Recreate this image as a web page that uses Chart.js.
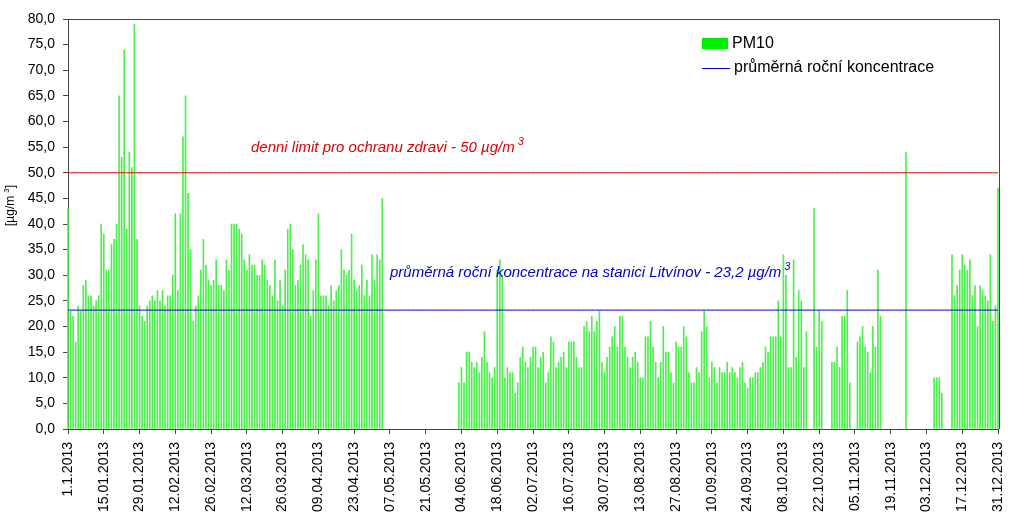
<!DOCTYPE html>
<html>
<head>
<meta charset="utf-8">
<script src="https://cdn.jsdelivr.net/npm/chart.js@4.4.0/dist/chart.umd.min.js"></script>
<style>
  html, body { margin: 0; padding: 0; background: #fff; }
</style>
</head>
<body>
<canvas id="chartCanvas" width="1024" height="531"></canvas>
<script>
// tick labels, one every 14 days
const tickLabels = [
  "1.1.2013", "15.01.2013", "29.01.2013", "12.02.2013", "26.02.2013", "12.03.2013",
  "26.03.2013", "09.04.2013", "23.04.2013", "07.05.2013", "21.05.2013", "04.06.2013",
  "18.06.2013", "02.07.2013", "16.07.2013", "30.07.2013", "13.08.2013", "27.08.2013",
  "10.09.2013", "24.09.2013", "08.10.2013", "22.10.2013", "05.11.2013", "19.11.2013",
  "03.12.2013", "17.12.2013", "31.12.2013"
];

// daily PM10 [µg/m3], 1.1. - 31.12.2013 (null = no measurement)
const pm10Jan = [43,23,22,17,24,23,28,29,26,26,24,25,26,40,38,31,31,36,37,40,65,53,74,39,54,51,79,37,24,22,21];
const pm10Feb = [24,25,26,25,27,25,27,24,26,26,30,42,27,42,57,65,46,35,21,24,26,31,37,32,29,28,29,33];
const pm10Mar = [28,28,27,33,31,40,40,40,39,38,33,31,34,32,32,30,30,33,32,29,28,26,33,25,29,24,31,39,40,35,28];
const pm10Apr = [29,32,36,34,33,22,27,33,42,26,26,26,24,28,25,27,28,35,31,30,31,38,29,27,28,32,26,29,26,34];
const pm10May = [29,34,33,45,null,null,null,null,null,null,null,null,null,null,null,null,null,null,null,null,null,null,null,null,null,null,null,null,null,null,null];
const pm10Jun = [null,null,9,12,9,15,15,13,12,13,11,14,19,13,11,10,12,31,33,30,10,12,11,11,7,9,14,16,13,12];
const pm10Jul = [14,16,16,12,14,15,9,11,18,17,12,13,14,15,12,17,17,17,14,12,12,20,21,19,22,19,21,23,13,11,14];
const pm10Aug = [16,18,20,16,22,22,16,14,12,14,15,13,10,10,18,18,21,16,13,10,13,20,15,15,11,9,17,16,16,20,18];
const pm10Sep = [11,9,9,12,11,19,23,20,10,13,12,9,12,11,11,13,11,12,11,10,12,13,9,8,10,10,11,11,12,13];
const pm10Oct = [16,15,18,18,18,25,18,34,30,12,12,33,14,27,25,12,19,null,null,43,16,23,21,null,null,null,13,13,16,12,22];
const pm10Nov = [22,27,9,null,null,17,18,20,16,15,11,20,16,31,22,null,null,null,null,null,null,null,null,null,54,null,null,null,null,null];
const pm10Dec = [null,null,null,null,null,10,10,10,7,null,null,null,34,26,28,31,34,32,31,33,26,28,20,28,27,26,25,34,21,24,47];

const limitValue = 50;    // denni limit
const avgValue = 23.2;    // prumerna rocni koncentrace

const pm10 = [].concat(pm10Jan, pm10Feb, pm10Mar, pm10Apr, pm10May, pm10Jun,
  pm10Jul, pm10Aug, pm10Sep, pm10Oct, pm10Nov, pm10Dec);

const days = pm10.map((v, i) => {
  const d = new Date(2013, 0, 1 + i);
  return d.getDate() + "." + (d.getMonth() + 1) + ".2013";
});

const FONT = 'Arial, "Liberation Sans", sans-serif';
Chart.defaults.font.family = FONT;
Chart.defaults.color = "#000";

// text with a raised "3" after it, returns end x
function drawSup(ctx, text, sup, x, y, size, style) {
  ctx.font = `${style} ${size}px ${FONT}`;
  ctx.fillText(text, x, y);
  const w = ctx.measureText(text).width;
  ctx.font = `${style} ${Math.round(size * 0.7)}px ${FONT}`;
  ctx.fillText(sup, x + w + 3, y - size * 0.45);
  return x + w + 3 + ctx.measureText(sup).width;
}

const overlay = {
  id: "overlay",
  afterDraw(chart) {
    const { ctx, chartArea: a, scales: { y } } = chart;
    ctx.save();
    // top and right frame
    ctx.strokeStyle = "#444";
    ctx.lineWidth = 1;
    ctx.beginPath();
    ctx.moveTo(a.left, a.top + 0.5);
    ctx.lineTo(a.right + 1.5, a.top + 0.5);
    ctx.lineTo(a.right + 1.5, a.bottom);
    ctx.stroke();

    // annotations
    ctx.textBaseline = "alphabetic";
    ctx.fillStyle = "#e00000";
    drawSup(ctx, "denni limit pro ochranu zdravi - 50 µg/m", "3", a.left + 183, y.getPixelForValue(limitValue) - 21, 15, "italic");
    ctx.fillStyle = "#0000cc";
    drawSup(ctx, "průměrná roční koncentrace na stanici Litvínov - 23,2 µg/m", "3", a.left + 322, y.getPixelForValue(avgValue) - 33, 15, "italic");

    // y axis title
    ctx.save();
    ctx.translate(14, 226);
    ctx.rotate(-Math.PI / 2);
    ctx.fillStyle = "#000";
    const e = drawSup(ctx, "[µg/m", "3", 0, 0, 12, "normal");
    ctx.font = `12px ${FONT}`;
    ctx.fillText("]", e, 0);
    ctx.restore();

    // legend
    const lx = a.left + 634, ly = a.top + 19;
    ctx.fillStyle = "#00ee00";
    ctx.fillRect(lx, ly, 26, 11);
    ctx.strokeStyle = "#0000c0";
    ctx.beginPath();
    ctx.moveTo(lx, ly + 30.5);
    ctx.lineTo(lx + 28, ly + 30.5);
    ctx.stroke();
    ctx.fillStyle = "#000";
    ctx.textBaseline = "middle";
    ctx.font = `16px ${FONT}`;
    ctx.fillText("PM10", lx + 30, ly + 6);
    ctx.fillText("průměrná roční koncentrace", lx + 32, ly + 30);
    ctx.restore();
  }
};

new Chart(document.getElementById("chartCanvas"), {
  type: "bar",
  data: {
    labels: days,
    datasets: [
      {
        type: "line",
        label: "limit",
        data: days.map(() => limitValue),
        borderColor: "#e00000",
        borderWidth: 1,
        pointRadius: 0,
        order: 1
      },
      {
        type: "line",
        label: "průměrná roční koncentrace",
        data: days.map(() => avgValue),
        borderColor: "#0000c0",
        borderWidth: 1,
        pointRadius: 0,
        order: 1
      },
      {
        label: "PM10",
        data: pm10,
        backgroundColor: "#4cef4c",
        barThickness: 1,
        clip: false,
        order: 2
      }
    ]
  },
  options: {
    responsive: false,
    animation: false,
    layout: { padding: { top: 19, right: 26, left: 0, bottom: 0 } },
    plugins: {
      legend: { display: false },
      tooltip: { enabled: false }
    },
    scales: {
      x: {
        type: "category",
        offset: false,
        afterFit: s => { s.height = 102; },
        afterBuildTicks: s => { s.ticks = s.ticks.filter(t => t.value % 14 === 0); },
        grid: { offset: false, drawOnChartArea: false, tickLength: 5, color: "#444" },
        border: { color: "#444" },
        ticks: {
          autoSkip: false,
          minRotation: 90,
          maxRotation: 90,
          padding: 8,
          font: { size: 14 },
          callback: v => tickLabels[v / 14]
        }
      },
      y: {
        min: 0,
        max: 80,
        afterFit: s => { s.width = 68; },
        grid: { drawOnChartArea: false, tickLength: 5, color: "#444" },
        border: { color: "#444" },
        ticks: {
          stepSize: 5,
          padding: 8,
          font: { size: 14 },
          callback: v => v.toFixed(1).replace(".", ",")
        }
      }
    }
  },
  plugins: [overlay]
});
</script>
</body>
</html>
